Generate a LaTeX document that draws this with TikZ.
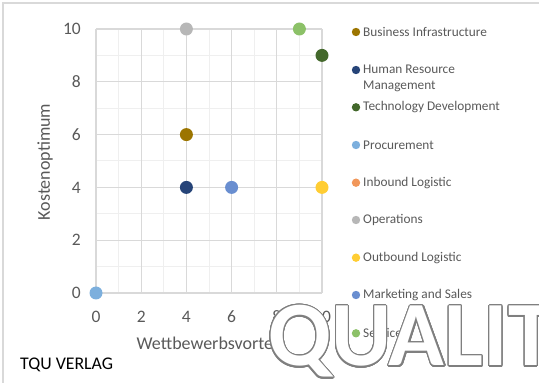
\documentclass[tikz,border=0pt]{standalone}
\usepackage{fontspec}
\setmainfont{Carlito}
\usepackage{contour}
\contourlength{1.1pt}
\contournumber{32}

\definecolor{txtgrey}{HTML}{595959}
\definecolor{gridmajor}{HTML}{D9D9D9}
\definecolor{gridminor}{HTML}{EFEFEF}
\definecolor{wmgrey}{HTML}{7F7F7F}
\definecolor{cbusiness}{HTML}{9C7500}
\definecolor{chuman}{HTML}{264478}
\definecolor{ctech}{HTML}{43682B}
\definecolor{cprocure}{HTML}{7CAFDD}
\definecolor{cinbound}{HTML}{F1975A}
\definecolor{coperate}{HTML}{B7B7B7}
\definecolor{coutbound}{HTML}{FFCD33}
\definecolor{cmarket}{HTML}{698ED0}
\definecolor{cservice}{HTML}{8CC168}

\tikzset{
  frame/.style={draw=gridmajor, line width=1.5pt},
  majorline/.style={draw=gridmajor, line width=1.3pt},
  minorline/.style={draw=gridminor, line width=1pt},
  ticklab/.style={text=txtgrey, font=\fontsize{17.5}{20}\selectfont, inner sep=0pt},
  axtitle/.style={text=txtgrey, font=\fontsize{18}{21}\selectfont, inner sep=0pt},
  legtext/.style={text=txtgrey, font=\fontsize{13.3}{16.7}\selectfont, inner sep=0pt, anchor=west, align=left},
}

\begin{document}
\begin{tikzpicture}[x=1pt,y=1pt]
  \useasboundingbox (0,0) rectangle (539,383);
  \draw[frame] (3,0) -- (3,380) -- (539,380);

  % plot area
  \begin{scope}[shift={(96pt,90pt)}, x=22.6pt, y=26.4pt]
    \foreach \i in {1,3,...,9} {
      \draw[minorline] (\i,0) -- (\i,10);
      \draw[minorline] (0,\i) -- (10,\i);
    }
    \foreach \i in {0,2,...,10} {
      \draw[majorline] (\i,0) -- (\i,10);
      \draw[majorline] (0,\i) -- (10,\i);
      \node[ticklab] (xt\i) at ([yshift=-24pt]\i,0) {\i};
      \node[ticklab, anchor=east] (yt\i) at ([xshift=-15pt]0,\i) {\i};
    }
    \foreach \px/\py/\c [count=\n] in {4/6/cbusiness, 4/4/chuman, 10/9/ctech, 0/0/cprocure,
        4/10/coperate, 10/4/coutbound, 6/4/cmarket, 9/10/cservice} {
      \node[circle, fill=\c, minimum size=13pt, inner sep=0pt] (pt\n) at (\px,\py) {};
    }
  \end{scope}

  \node[axtitle, rotate=90] (ytitle) at (45,221) {Kostenoptimum};
  \node[axtitle] (xtitle) at (209,40) {Wettbewerbsvorteil};

  % legend
  \foreach \ly/\c/\t [count=\n] in {351/cbusiness/Business Infrastructure,
      304.7/chuman/{Human Resource\\Management}, 275.7/ctech/Technology Development,
      238/cprocure/Procurement, 200.3/cinbound/Inbound Logistic, 163/coperate/Operations,
      125.3/coutbound/Outbound Logistic, 88/cmarket/Marketing and Sales, 49.7/cservice/Service} {
    \node[legtext] (leg\n) at (363,\ly) {\t};
  }
  \foreach \ly/\c [count=\n] in {351/cbusiness, 313/chuman, 275.7/ctech, 238/cprocure,
      200.3/cinbound, 163/coperate, 125.3/coutbound, 88/cmarket, 49.7/cservice} {
    \fill[\c] (356,\ly) circle[radius=4.2pt];
  }

  \node[anchor=west, inner sep=0pt, font=\fontsize{17.8}{20}\selectfont] (tqu) at (20,18) {TQU VERLAG};

  % watermark
  \node[anchor=base west, inner sep=0pt, font=\fontsize{92}{92}\selectfont\bfseries] (wm) at (268,17)
    {\contour{wmgrey}{\textcolor{white}{QUALIT}}};
\end{tikzpicture}
\end{document}
